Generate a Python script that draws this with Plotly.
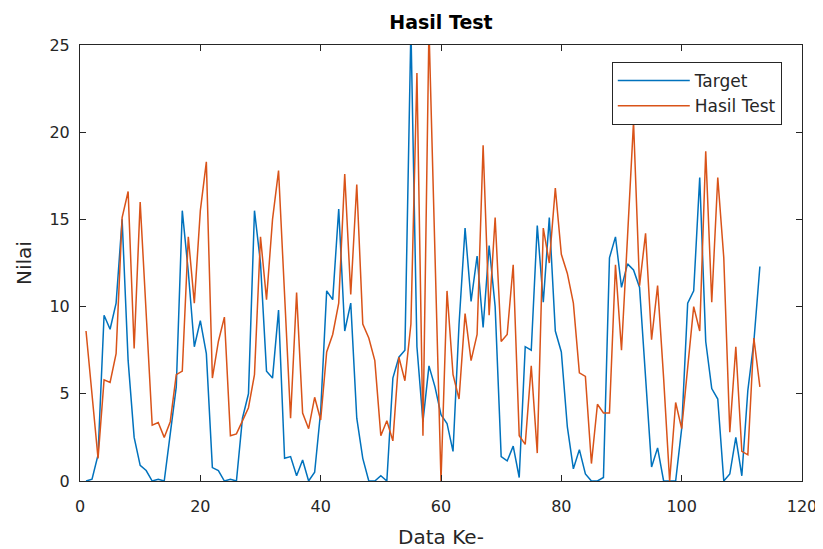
import plotly.graph_objects as go

x_idx = list(range(1, 114))

target = [0, 0.1, 1.5, 9.5, 8.7, 10.2, 15.0, 6.9, 2.5, 0.9,
          0.6, 0, 0.1, 0, 2.7, 5.4, 15.5, 12.0, 7.7, 9.2,
          7.3, 0.77, 0.6, 0, 0.1, 0, 3.6, 5.0, 15.5, 12.5,
          6.3, 5.9, 9.8, 1.3, 1.4, 0.3, 1.2, 0, 0.5, 4.0,
          10.9, 10.4, 15.6, 8.6, 10.2, 3.6, 1.3, 0, 0, 0.3,
          0, 5.9, 7.1, 7.5, 26.0, 7.7, 3.4, 6.6, 5.4, 3.8,
          3.3, 1.7, 9.0, 14.5, 10.3, 12.9, 8.8, 13.5, 10.0, 1.4,
          1.15, 2.0, 0.2, 7.7, 7.5, 14.65, 10.25, 15.1, 8.6, 7.4,
          3.1, 0.7, 1.8, 0.4, 0, 0, 0.2, 12.8, 14.0, 11.1,
          12.45, 12.1, 11.1, 6.1, 0.8, 1.9, 0, 0, 0, 3.0,
          10.2, 10.9, 17.4, 8.0, 5.3, 4.7, 0, 0.4, 2.5, 0.3,
          5.2, 8.0, 12.3]

hasil = [8.6, 5.0, 1.3, 5.8, 5.65, 7.3, 15.1, 16.6, 7.6, 16.0,
         9.6, 3.2, 3.35, 2.5, 3.4, 6.1, 6.3, 14.0, 10.2, 15.5,
         18.3, 5.9, 8.0, 9.4, 2.6, 2.7, 3.45, 4.2, 6.1, 14.0,
         10.4, 15.0, 17.8, 10.5, 3.6, 10.8, 3.9, 3.0, 4.8, 3.5,
         7.4, 8.4, 10.2, 17.6, 10.7, 17.0, 9.0, 8.2, 6.9, 2.6,
         3.45, 2.3, 7.1, 5.75, 9.0, 23.4, 2.6, 26.0, 13.5, 0,
         10.9, 6.1, 4.7, 9.6, 6.9, 8.4, 19.25, 9.5, 15.1, 8.0,
         8.4, 12.4, 2.6, 2.1, 6.6, 1.6, 14.5, 12.5, 16.8, 13.0,
         11.9, 10.2, 6.2, 6.0, 1.0, 4.4, 3.9, 3.9, 12.4, 7.5,
         14.0, 20.6, 11.2, 14.2, 8.1, 11.2, 5.9, 0, 4.5, 3.0,
         6.5, 10.0, 8.6, 18.9, 10.25, 17.4, 12.8, 2.8, 7.7, 1.7,
         1.5, 8.2, 5.4]

x_ticks = [0, 20, 40, 60, 80, 100, 120]
y_ticks = [0, 5, 10, 15, 20, 25]

font_family = "DejaVu Sans, Liberation Sans, Arial, sans-serif"
axis_col = "#262626"

fig = go.Figure()
fig.add_trace(go.Scatter(x=x_idx, y=target, mode="lines", name="Target",
                         legendgroup="a",
                         line=dict(color="#0072BD", width=1.5)))
fig.add_trace(go.Scatter(x=x_idx, y=hasil, mode="lines", name="Hasil Test",
                         legendgroup="b",
                         line=dict(color="#D95319", width=1.5)))

axis_common = dict(showline=True, linecolor=axis_col, linewidth=1, mirror="ticks",
                   ticks="inside", ticklen=6, tickcolor=axis_col, tickwidth=1,
                   showgrid=False, zeroline=False, automargin=False,
                   tickfont=dict(family=font_family, size=16, color=axis_col))

fig.update_layout(
    width=815, height=541,
    margin=dict(l=72, r=21, t=37, b=68),
    paper_bgcolor="white", plot_bgcolor="white",
    title=dict(text="<b>Hasil Test</b>", x=0.5, xref="paper", y=1 - 14 / 541,
               yref="container", yanchor="middle", xanchor="center",
               font=dict(family=font_family, size=19, color="black")),
    xaxis=dict(range=[0, 120], tickvals=x_ticks, ticklabelstandoff=11,
               title=dict(text="Data Ke-", standoff=14,
                          font=dict(family=font_family, size=20, color=axis_col)),
               **axis_common),
    yaxis=dict(range=[0, 25], tickvals=y_ticks, ticklabelstandoff=6,
               title=dict(text="Nilai", standoff=12,
                          font=dict(family=font_family, size=20, color=axis_col)),
               **axis_common),
    legend=dict(x=0.972, y=0.961, xanchor="right", yanchor="top",
                bgcolor="white", bordercolor=axis_col, borderwidth=1,
                font=dict(family=font_family, size=17, color=axis_col),
                tracegroupgap=0, itemwidth=72),
    showlegend=True,
)

fig.write_html("out.html")
